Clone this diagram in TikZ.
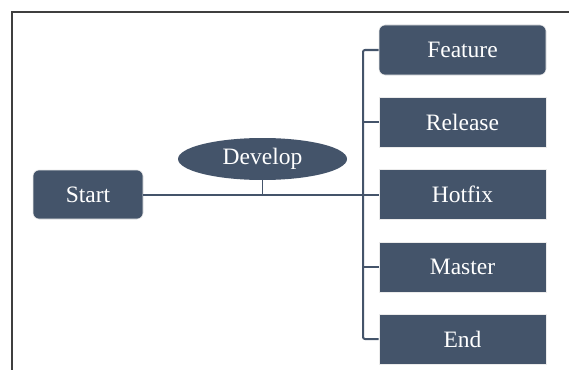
\documentclass[tikz,border=0pt]{standalone}
\usepackage{fontspec}
\setmainfont{Liberation Serif}
\newfontfamily\boxfont{Liberation Serif}
\usetikzlibrary{shapes.geometric}
\definecolor{boxfill}{HTML}{44546A}
\definecolor{linecol}{HTML}{44546A}
\definecolor{framecol}{HTML}{3F3F3F}
\tikzset{
  base/.style={fill=boxfill, draw=black!8, line width=0.6pt, text=white,
    font=\boxfont\fontsize{23.5}{25}\selectfont, inner sep=0pt, anchor=center},
  squarebox/.style={base, minimum width=167pt, minimum height=50pt},
  roundbox/.style={squarebox, rounded corners=6pt},
  startbox/.style={base, minimum width=110pt, minimum height=49pt, rounded corners=6pt},
  devbox/.style={base, ellipse, draw=none, minimum width=169pt, minimum height=42pt},
  conn/.style={draw=linecol, line width=2pt},
}
\begin{document}
\begin{tikzpicture}[x=1pt,y=-1pt]
\useasboundingbox (0,0) rectangle (569,369);
\fill[white] (0,0) rectangle (569,369);
\draw[framecol, line width=2.6pt] (12,375) -- (12,12) -- (575,12);

\node[startbox] (start) at (88,194.5) {Start};
\node[devbox] (develop) at (262.5,159) {Develop};
\node[roundbox] (feature) at (462.5,50) {Feature};
\node[squarebox] (release) at (462.5,122) {Release};
\node[squarebox] (hotfix) at (462.5,194.5) {Hotfix};
\node[squarebox] (master) at (462.5,267) {Master};
\node[squarebox] (end) at (462.5,339) {End};

\coordinate (trunk) at (363,194.5);

\draw[conn] (start.east) -- (hotfix.west);
\draw[conn, line width=1.6pt] (develop.south) -- (develop.south |- start.east);
\draw[conn, rounded corners=2pt] (feature.west) -- (feature.west -| trunk) -- (end.west -| trunk) -- (end.west);
\draw[conn] (release.west) -- (release.west -| trunk);
\draw[conn] (master.west) -- (master.west -| trunk);
\end{tikzpicture}
\end{document}
